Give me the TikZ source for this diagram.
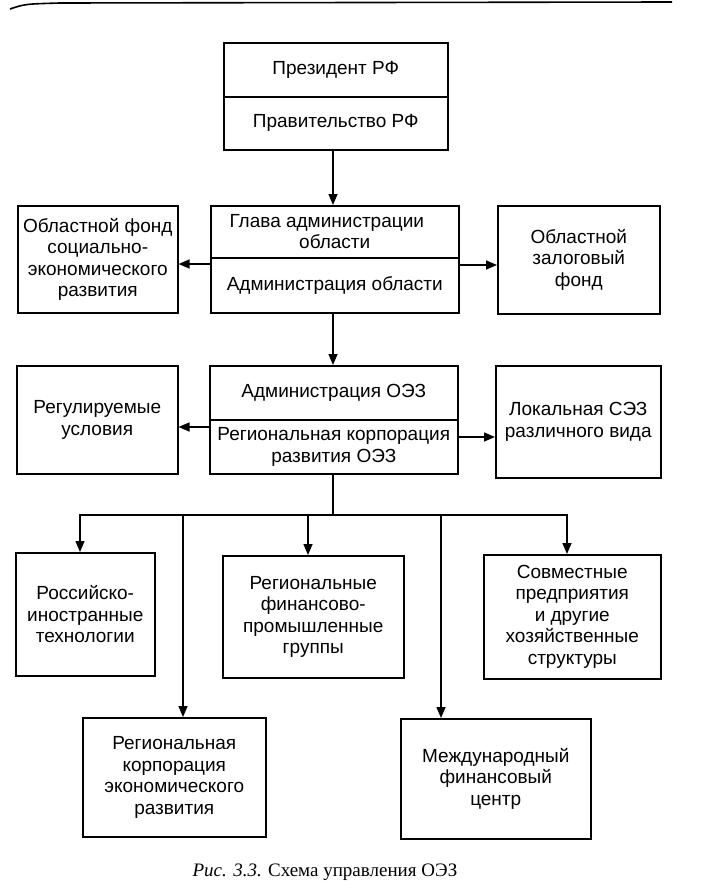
\documentclass[tikz,border=0pt]{standalone}
\usepackage{fontspec}
\setmainfont{Liberation Serif}
\newfontfamily\diagfont{Liberation Sans}
\usetikzlibrary{arrows.meta}
\tikzset{
  box/.style={draw, line width=1.5pt, rectangle, anchor=north west, align=center,
    inner sep=2pt, font=\diagfont\fontsize{19}{21.5}\selectfont},
  arr/.style={line width=1.5pt, -{Triangle[length=11pt,width=9pt]}},
  ln/.style={line width=1.5pt},
}
\begin{document}
\begin{tikzpicture}[x=1pt,y=-1pt]
\useasboundingbox (0,0) rectangle (713,894);
% header rule of the page
\draw[line width=1.6pt] (10,9) .. controls (25,4) .. (60,3) -- (672,2);

\node[box, minimum width=224pt, minimum height=54pt] (pres) at (223,42) {Президент РФ};
\node[box, minimum width=224pt, minimum height=53pt] (gov) at (223,96) {Правительство РФ};

\node[box, minimum width=248pt, minimum height=52pt] (glava) at (210,205) {\hspace*{-16pt}Глава администрации\\области};
\node[box, minimum width=248pt, minimum height=55pt] (adm) at (210,257) {Администрация области};
\node[box, minimum width=160pt, minimum height=107pt] (fond) at (17,205) {Областной фонд\\социально-\\экономического\\развития};
\node[box, minimum width=162pt, minimum height=108pt] (zalog) at (497,205) {Областной\\залоговый\\фонд};

\node[box, minimum width=248pt, minimum height=54pt] (oez) at (209,365) {Администрация ОЭЗ};
\node[box, minimum width=248pt, minimum height=54pt] (corp) at (209,419) {Региональная корпорация\\развития ОЭЗ};
\node[box, minimum width=161pt, minimum height=108pt] (reg) at (16,365) {Регулируемые\\условия};
\node[box, minimum width=165pt, minimum height=112pt] (lok) at (495,365) {Локальная СЭЗ\\различного вида};

\node[box, minimum width=139pt, minimum height=123pt] (ros) at (15,552) {Российско-\\иностранные\\технологии};
\node[box, minimum width=181pt, minimum height=122pt] (fpg) at (222,555) {Региональные\\финансово-\\промышленные\\группы};
\node[box, minimum width=177pt, minimum height=124pt] (sov) at (483,554) {Совместные\\предприятия\\и другие\\хозяйственные\\структуры};
\node[box, minimum width=183pt, minimum height=119pt] (rke) at (82,717) {Региональная\\корпорация\\экономического\\развития};
\node[box, minimum width=190pt, minimum height=120pt] (mfc) at (400,718) {Международный\\финансовый\\центр};

% connectors
\coordinate (v1) at (333,0);
\draw[arr] (v1 |- gov.south) -- (v1 |- glava.north);
\draw[arr] ([yshift=-7pt]adm.north west) coordinate (p1) -- (p1 -| fond.east);
\draw[arr] ([yshift=-8pt]adm.north east) coordinate (p2) -- (p2 -| zalog.west);
\draw[arr] (v1 |- adm.south) -- (v1 |- oez.north);
\draw[arr] ([yshift=-8pt]corp.north west) coordinate (p3) -- (p3 -| reg.east);
\draw[arr] ([yshift=-18pt]corp.north east) coordinate (p4) -- (p4 -| lok.west);

\coordinate (bus) at (333,515);
\coordinate (b1) at (80,515);
\coordinate (b2) at (183,515);
\coordinate (b3) at (308,515);
\coordinate (b4) at (441,515);
\coordinate (b5) at (567,515);
\draw[ln] (bus |- corp.south) -- (bus);
\draw[arr] (bus) -- (b1) -- (b1 |- ros.north);
\draw[arr] (bus) -- (b5) -- (b5 |- sov.north);
\draw[arr] (b2) -- (b2 |- rke.north);
\draw[arr] (b3) -- (b3 |- fpg.north);
\draw[arr] (b4) -- (b4 |- mfc.north);

\node[font=\fontsize{19}{22}\selectfont] (cap) at (325,872) {\textit{Рис. 3.3.} Схема управления ОЭЗ};
\end{tikzpicture}
\end{document}
